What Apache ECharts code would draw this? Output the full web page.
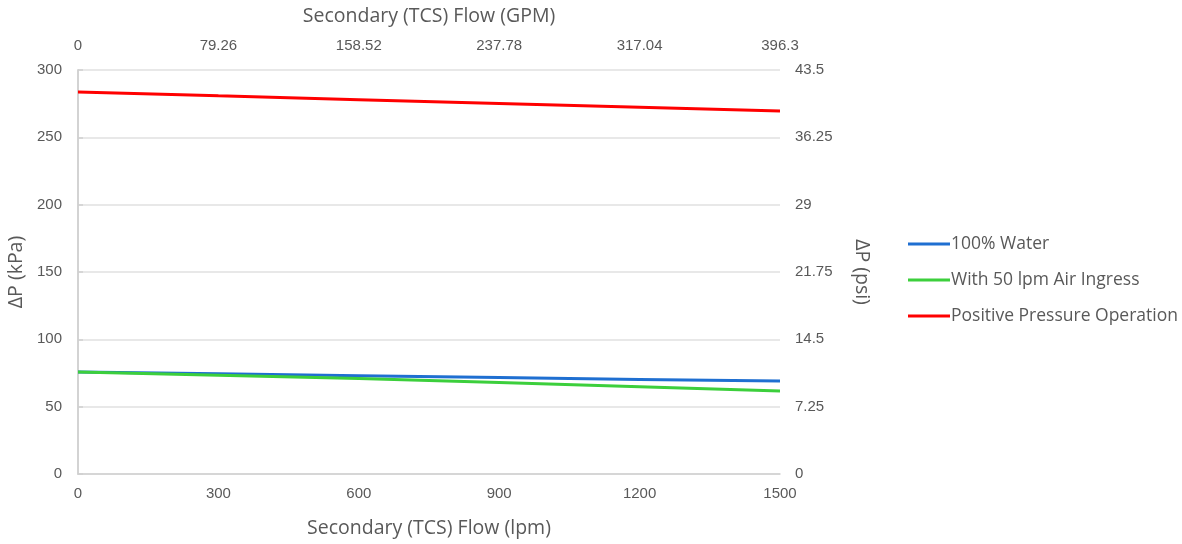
<!DOCTYPE html>
<html>
<head>
<meta charset="utf-8">
<script src="https://cdn.jsdelivr.net/npm/echarts@6/dist/echarts.min.js"></script>
<style>
html,body{margin:0;padding:0;background:#fff;}
#chart{width:1182px;height:544px;}
</style>
</head>
<body>
<div id="chart"></div>
<script>
const flowLpm = [0, 300, 600, 900, 1200, 1500];
const water100 = [75.7, 74.4, 73.0, 71.6, 70.2, 69.0];
const airIngress = [75.7, 73.4, 70.9, 68.0, 64.8, 61.6];
const positivePressure = [283.7, 280.8, 278.0, 275.1, 272.3, 269.5];
const seriesNames = ['100% Water', 'With 50 lpm Air Ingress', 'Positive Pressure Operation'];

const textColor = '#595959';
const tickFont = 'Liberation Sans, Arial, sans-serif';
const titleFont = 'Open Sans, sans-serif';

function pairs(ys){ return flowLpm.map((x,i)=>[x, ys[i]]); }
function fmt(v){ return String(+v.toFixed(2)); }

const chart = echarts.init(document.getElementById('chart'));
chart.setOption({
  animation: false,
  grid: {left: 78, right: 402, top: 70, bottom: 70, outerBoundsMode: 'none', containLabel: false},
  legend: {
    orient: 'vertical', left: 903, top: 230, itemGap: 18,
    itemWidth: 42, itemHeight: 3,
    icon: 'rect',
    textStyle: {color: textColor, fontFamily: titleFont, fontSize: 17.5, padding: [0,0,0,-4]},
    data: seriesNames
  },
  xAxis: [
    {
      type: 'value', position: 'bottom', min: 0, max: 1500, interval: 300,
      name: 'Secondary (TCS) Flow (lpm)', nameLocation: 'middle', nameGap: 44,
      nameTextStyle: {color: textColor, fontFamily: titleFont, fontSize: 19.5},
      axisLine: {show: true, lineStyle: {color: '#d0d0d0', width: 1.5}},
      axisTick: {show: false},
      splitLine: {show: false},
      axisLabel: {color: textColor, fontFamily: tickFont, fontSize: 15, margin: 12, formatter: fmt}
    },
    {
      type: 'value', position: 'top', min: 0, max: 396.3, interval: 79.26,
      name: 'Secondary (TCS) Flow (GPM)', nameLocation: 'middle', nameGap: 44,
      nameTextStyle: {color: textColor, fontFamily: titleFont, fontSize: 19.5},
      axisLine: {show: false},
      axisTick: {show: false},
      splitLine: {show: false},
      axisLabel: {color: textColor, fontFamily: tickFont, fontSize: 15, margin: 17, formatter: fmt}
    }
  ],
  yAxis: [
    {
      type: 'value', position: 'left', min: 0, max: 300, interval: 50,
      name: 'ΔP (kPa)', nameLocation: 'middle', nameGap: 50, nameRotate: 90,
      nameTextStyle: {color: textColor, fontFamily: titleFont, fontSize: 19.5},
      axisLine: {show: true, lineStyle: {color: '#d0d0d0', width: 1.5}},
      axisTick: {show: false},
      splitLine: {show: true, lineStyle: {color: '#e0e0e0', width: 1.5}},
      axisLabel: {color: textColor, fontFamily: tickFont, fontSize: 15, margin: 16, formatter: fmt}
    },
    {
      type: 'value', position: 'right', min: 0, max: 43.5, interval: 7.25,
      name: 'ΔP (psi)', nameLocation: 'middle', nameGap: 72, nameRotate: -90,
      nameTextStyle: {color: textColor, fontFamily: titleFont, fontSize: 19.5},
      axisLine: {show: true, lineStyle: {color: '#d0d0d0', width: 1.5}},
      axisTick: {show: true, length: 5, lineStyle: {color: '#d0d0d0', width: 1.5}},
      splitLine: {show: false},
      axisLabel: {color: textColor, fontFamily: tickFont, fontSize: 15, margin: 15, formatter: fmt}
    }
  ],
  series: [
    {name: seriesNames[0], type: 'line', xAxisIndex: 0, yAxisIndex: 0, data: pairs(water100),
     showSymbol: false, lineStyle: {color: '#1f6fd1', width: 3}, itemStyle: {color: '#1f6fd1'}},
    {name: seriesNames[1], type: 'line', xAxisIndex: 0, yAxisIndex: 0, data: pairs(airIngress),
     showSymbol: false, lineStyle: {color: '#3ccf3c', width: 3}, itemStyle: {color: '#3ccf3c'}},
    {name: seriesNames[2], type: 'line', xAxisIndex: 0, yAxisIndex: 0, data: pairs(positivePressure),
     showSymbol: false, lineStyle: {color: '#ff0000', width: 3}, itemStyle: {color: '#ff0000'}}
  ]
});
</script>
</body>
</html>
